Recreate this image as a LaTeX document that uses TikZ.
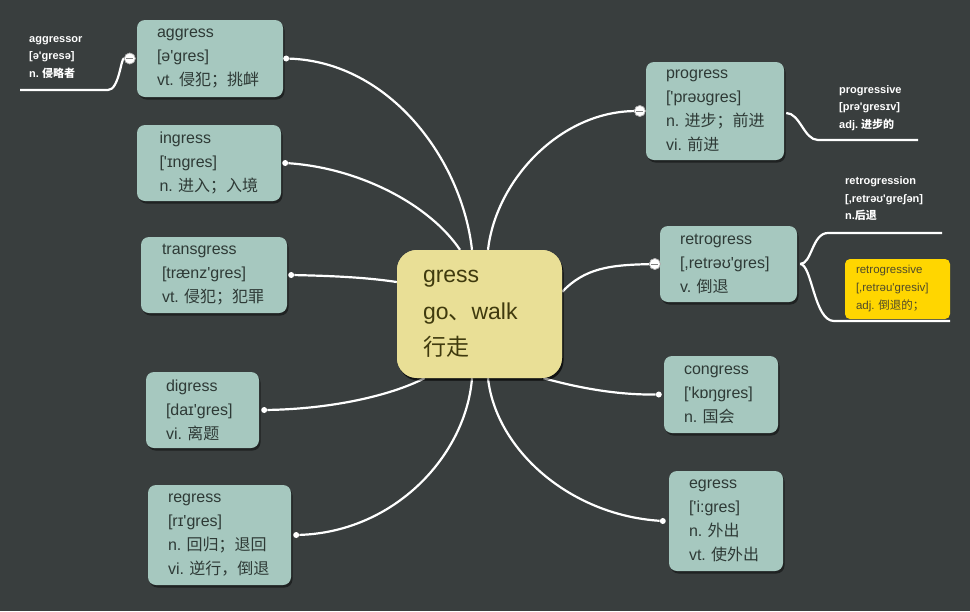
\documentclass[tikz,border=0pt]{standalone}
\usepackage{fontspec}
\setmainfont{Liberation Sans}[Ligatures=TeXOff]
\newfontfamily\cjk{Noto Sans CJK SC}
\usetikzlibrary{shadows,calc}
\definecolor{bgc}{HTML}{393E3E}
\definecolor{boxc}{HTML}{A6C8BF}
\definecolor{boxt}{HTML}{2E3A36}
\definecolor{cenc}{HTML}{E9DF96}
\definecolor{cent}{HTML}{3F3A0E}
\definecolor{yelc}{HTML}{FFD600}
\definecolor{yelt}{HTML}{4F4A2A}
\newcommand\zh[1]{{\cjk #1}}
\begin{document}
\begin{tikzpicture}[x=1pt,y=-1pt,
  box/.style={fill=boxc, rounded corners=8pt, align=left, text=boxt,
    font=\fontsize{16}{24}\selectfont, inner xsep=20pt, inner ysep=0pt,
    drop shadow={shadow xshift=1.5pt, shadow yshift=-2.5pt, opacity=0.45, fill=black}},
  cen/.style={fill=cenc, rounded corners=20pt, align=left, text=cent,
    font=\fontsize{23}{36.5}\selectfont, inner xsep=26pt, inner ysep=0pt,
    drop shadow={shadow xshift=1.5pt, shadow yshift=-2.5pt, opacity=0.45, fill=black}},
  yel/.style={fill=yelc, rounded corners=5pt, align=left, text=yelt,
    font=\fontsize{11.5}{18}\selectfont, inner xsep=11pt, inner ysep=0pt},
  lab/.style={align=left, text=white, font=\bfseries\fontsize{11}{17.5}\selectfont, inner sep=0pt, anchor=west},
  conn/.style={draw=white, line width=2.2pt},
  dotn/.style={circle, fill=white, inner sep=0pt, minimum size=6pt},
  collapse/.style={circle, fill=white, draw=gray!70, line width=0.6pt, minimum size=11pt, inner sep=0pt,
    path picture={\draw[gray, line width=1pt] ([xshift=-3.5pt]path picture bounding box.center) -- ([xshift=3.5pt]path picture bounding box.center);}}
]
\useasboundingbox (0,0) rectangle (970,611);
\fill[bgc] (0,0) rectangle (970,611);

% center
\node[cen, minimum width=165pt, minimum height=128pt, text width=113pt] (gress) at (479.5,314)
  {gress\\go\zh{、}walk\\\zh{行走}};

% left boxes
\node[box, minimum width=146pt, minimum height=77pt, text width=106pt] (aggress) at (210,58.5)
  {aggress\\{}[ə'gres]\\vt.~\zh{侵犯；挑衅}};
\node[box, minimum width=144pt, minimum height=76pt, text width=99pt, inner xsep=22.5pt] (ingress) at (209,163)
  {ingress\\{}['ɪngres]\\n.~\zh{进入；入境}};
\node[box, minimum width=146pt, minimum height=76pt, text width=104pt, inner xsep=21pt] (transgress) at (214,275)
  {transgress\\{}[trænz'gres]\\vt.~\zh{侵犯；犯罪}};
\node[box, minimum width=113pt, minimum height=76pt, text width=73pt] (digress) at (202.5,410)
  {digress\\{}[daɪ'gres]\\vi.~\zh{离题}};
\node[box, minimum width=143pt, minimum height=100pt, text width=103pt] (regress) at (219.5,535)
  {regress\\{}[rɪ'gres]\\n.~\zh{回归；退回}\\vi.~\zh{逆行，倒退}};

% right boxes
\node[box, minimum width=138pt, minimum height=98pt, text width=98pt] (progress) at (715,111)
  {progress\\{}['prəʊgres]\\n.~\zh{进步；前进}\\vi.~\zh{前进}};
\node[box, minimum width=137pt, minimum height=76pt, text width=97pt] (retrogress) at (728.5,264)
  {retrogress\\{}[,retrəʊ'gres]\\v.~\zh{倒退}};
\node[box, minimum width=114pt, minimum height=77pt, text width=74pt] (congress) at (721,394.5)
  {congress\\{}['kɒŋgres]\\n.~\zh{国会}};
\node[box, minimum width=114pt, minimum height=100pt, text width=74pt] (egress) at (726,521)
  {egress\\{}['i:gres]\\n.~\zh{外出}\\vt.~\zh{使外出}};

% dots
\node[dotn] (da) at ([xshift=3pt]aggress.east) {};
\node[dotn] (di) at ([xshift=4pt]ingress.east) {};
\node[dotn] (dt) at ([xshift=4pt]transgress.east) {};
\node[dotn] (dd) at ([xshift=5pt]digress.east) {};
\node[dotn] (dr) at ([xshift=5pt]regress.east) {};
\node[dotn] (dc) at ([xshift=-5pt]congress.west) {};
\node[dotn] (de) at ([xshift=-6pt]egress.west) {};

% connectors to center
\draw[conn] (da) .. controls (390,62) and (462,160) .. ([xshift=-7.5pt]gress.north);
\draw[conn] (di) .. controls (360,168) and (430,205) .. ([xshift=-19.5pt]gress.north);
\draw[conn] (dt) .. controls (340,276) and (370,278) .. ([yshift=32pt]gress.west);
\draw[conn] (dd) .. controls (330,409) and (390,396) .. ([xshift=-55pt]gress.south);
\draw[conn] (dr) .. controls (395,532) and (466,455) .. ([xshift=-7.5pt]gress.south);
\draw[conn] (dc) .. controls (612,395) and (572,386) .. ([xshift=64pt]gress.south);
\draw[conn] (de) .. controls (570,515) and (496,450) .. ([xshift=8.5pt]gress.south);

\node[collapse] (cpro) at ([xshift=-6pt]progress.west) {};
\node[collapse] (cret) at ([xshift=-5pt]retrogress.west) {};
\node[collapse] (cagg) at ([xshift=-7pt]aggress.west) {};

\draw[conn] (cpro) .. controls (560,112) and (496,180) .. ([xshift=8.5pt]gress.north);
\draw[conn] (cret) .. controls (610,265) and (585,268) .. ([yshift=-42pt]gress.north east);

% redraw markers and center on top of lines
\node[collapse] at (cpro) {};
\node[collapse] at (cret) {};
\node[cen, minimum width=165pt, minimum height=128pt, text width=113pt] at (479.5,314)
  {gress\\go\zh{、}walk\\\zh{行走}};

% aggressor
\coordinate (aend) at (20,90);
\draw[conn] (cagg) .. controls (121,58) and (119,90) .. (108,90) -- (aend);
\node[collapse] at (cagg) {};
\node[lab] (aggressor) at (29,57.5) {aggressor\\{}[ə'gresə]\\n.~\zh{侵略者}};

% progressive
\coordinate (pend) at (918,140);
\draw[conn] ([xshift=2pt,yshift=-2pt]progress.east) .. controls (800,113) and (804,140) .. (818,140) -- (pend);
\node[lab] (progressive) at (839,108) {progressive\\{}[prə'gresɪv]\\adj.~\zh{进步的}};

% retrogression / retrogressive
\coordinate (rbr) at ([xshift=3pt]retrogress.east);
\coordinate (r1end) at (942,233);
\coordinate (r2end) at (950,321);
\draw[conn] (rbr) .. controls (812,264) and (812,233) .. (828,233) -- (r1end);
\draw[conn] (rbr) .. controls (812,264) and (814,321) .. (834,321) -- (r2end);
\node[lab] (retrogression) at (845,199) {retrogression\\{}[,retrəʊ'greʃən]\\n.\zh{后退}};
\node[yel, minimum width=105pt, minimum height=60pt, text width=83pt] (retrogressive) at (897.5,289)
  {retrogressive\\{}[,retrəu'gresiv]\\adj.~\zh{倒退的；}};
\end{tikzpicture}
\end{document}
